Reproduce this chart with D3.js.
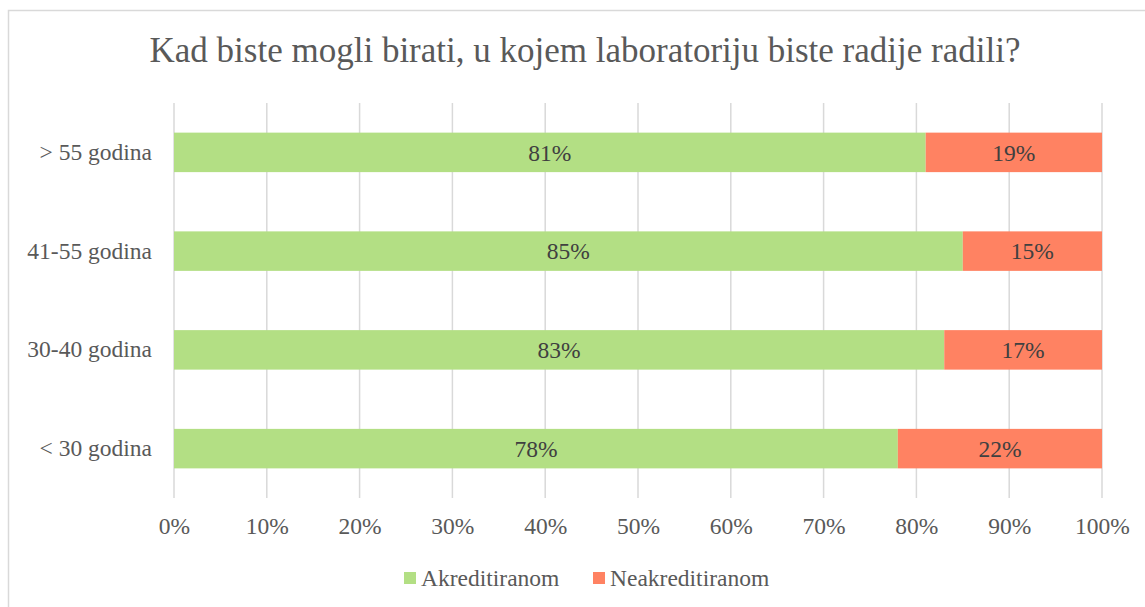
<!DOCTYPE html>
<html><head><meta charset="utf-8">
<script src="https://cdn.jsdelivr.net/npm/d3@7"></script>
<style>body{margin:0;background:#fff}svg{display:block}</style>
</head><body>
<svg id="c" width="1145" height="607"></svg>
<script>
const title = "Kad biste mogli birati, u kojem laboratoriju biste radije radili?";
const categories = ["> 55 godina", "41-55 godina", "30-40 godina", "< 30 godina"];
const seriesNames = ["Akreditiranom", "Neakreditiranom"];
const akreditiranom = [81, 85, 83, 78];
const neakreditiranom = [19, 15, 17, 22];
const tickValues = [0,10,20,30,40,50,60,70,80,90,100];
const colors = ["#B3DF84", "#FF8262"];

const svg = d3.select("#c");
const font = "'Liberation Serif','Times New Roman',serif";
svg.append("rect").attr("x",8.5).attr("y",10.5).attr("width",1160).attr("height",620)
  .attr("fill","#fff").attr("stroke","#d9d9d9").attr("stroke-width",1.5);

const x = d3.scaleLinear().domain([0,100]).range([174,1102]);
const y = d3.scaleBand().domain(categories).range([103,498]).paddingInner(0.6).paddingOuter(0.3);

svg.append("text").attr("x",585).attr("y",62).attr("text-anchor","middle")
  .attr("font-family",font).attr("font-size",35).attr("fill","#595959").text(title);

// gridlines
svg.append("g").selectAll("line").data(tickValues).join("line")
  .attr("x1",d=>x(d)).attr("x2",d=>x(d)).attr("y1",103).attr("y2",498)
  .attr("stroke","#d9d9d9").attr("stroke-width",1.5);

const rows = categories.map((c,i)=>({c, vals:[akreditiranom[i], neakreditiranom[i]]}));
const segs = [];
rows.forEach(r=>{let acc=0; r.vals.forEach((v,j)=>{segs.push({c:r.c,x0:acc,x1:acc+v,v,j}); acc+=v;});});

svg.append("g").selectAll("rect").data(segs).join("rect")
  .attr("x",d=>x(d.x0)).attr("width",d=>x(d.x1)-x(d.x0))
  .attr("y",d=>y(d.c)).attr("height",y.bandwidth())
  .attr("fill",d=>colors[d.j]);

svg.append("g").selectAll("text").data(segs).join("text")
  .attr("x",d=>(x(d.x0)+x(d.x1))/2).attr("y",d=>y(d.c)+y.bandwidth()/2)
  .attr("dy","0.35em").attr("text-anchor","middle")
  .attr("font-family",font).attr("font-size",23.5).attr("fill","#404040")
  .text(d=>d.v+"%");

// axes
const xa = svg.append("g").attr("transform","translate(0,498)")
  .call(d3.axisBottom(x).tickValues(tickValues).tickFormat(d=>d+"%").tickSize(0).tickPadding(19));
xa.select(".domain").remove();
xa.selectAll("text").attr("font-family",font).attr("font-size",23.5).attr("fill","#595959");

const ya = svg.append("g").attr("transform","translate(174,0)")
  .call(d3.axisLeft(y).tickSize(0).tickPadding(22));
ya.select(".domain").remove();
ya.selectAll("text").attr("font-family",font).attr("font-size",23.5).attr("fill","#595959");

// legend
const legendX = [404, 593];
const lg = svg.append("g").selectAll("g").data(seriesNames).join("g")
  .attr("transform",(d,i)=>`translate(${legendX[i]},578)`);
lg.append("rect").attr("x",0).attr("y",-6).attr("width",12).attr("height",12).attr("fill",(d,i)=>colors[i]);
lg.append("text").attr("x",17).attr("dy","0.35em").attr("font-family",font).attr("font-size",23.5)
  .attr("fill","#595959").text(d=>d);
</script>
</body></html>
